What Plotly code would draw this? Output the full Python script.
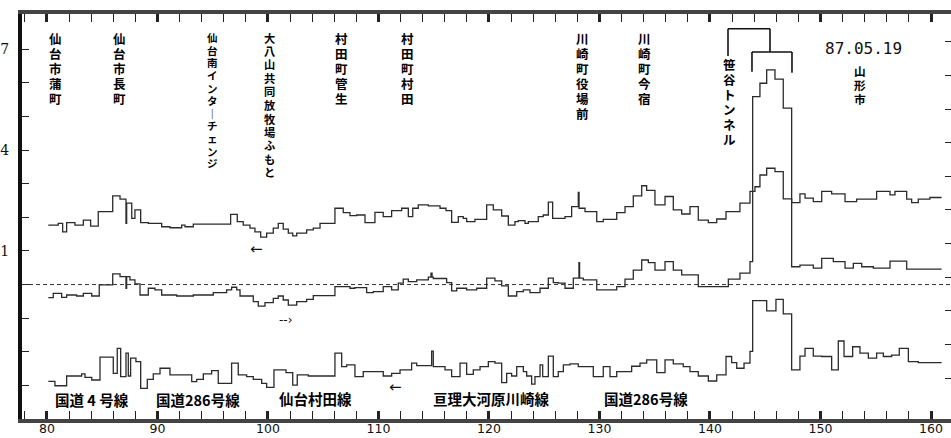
import plotly.graph_objects as go

# ---- data (distance in km, relative level) ----
A_km = [80.12, 81.02, 81.42, 81.78, 82.53, 83.29, 83.95, 84.64, 85.95, 86.61, 87.15, 87.21, 87.67, 87.96, 88.48,
        89.17, 90.38, 91.13, 92.19, 92.49, 93.24, 96.62, 97.22, 97.76, 98.37, 98.82, 99.34, 99.88, 100.48, 100.93,
        101.38, 101.84, 102.24, 102.60, 103.50, 104.10, 104.71, 106.06, 106.81, 107.42, 108.03, 108.78, 109.68,
        110.43, 111.19, 112.10, 112.70, 113.10, 113.60, 114.51, 115.57, 116.11, 116.62, 117.22, 117.67, 117.98,
        118.73, 119.79, 120.39, 121.15, 121.75, 122.35, 122.65, 123.26, 123.56, 124.46, 124.91, 125.37, 125.76,
        126.88, 127.48, 128.08, 128.15, 128.69, 129.75, 130.34, 131.56, 132.31, 133.06, 133.82, 134.27, 135.02,
        135.93, 136.68, 137.44, 138.19, 138.94, 139.85, 140.61, 141.45, 142.71, 143.62, 144.07, 144.52, 145.13,
        145.88, 146.63, 147.39, 148.14, 148.60, 149.35, 150.11, 151.01, 152.22, 153.27, 155.08, 156.29, 156.74,
        157.80, 158.25, 158.85, 159.90, 160.96]
A_val = [1.77, 1.82, 1.57, 1.84, 1.77, 1.92, 1.74, 2.17, 2.64, 2.54, 1.82, 2.42, 1.97, 2.22, 1.84, 1.82, 1.72, 1.69,
         1.77, 1.72, 1.80, 2.09, 1.87, 1.77, 1.68, 1.57, 1.41, 1.53, 1.68, 1.82, 1.65, 1.53, 1.45, 1.53, 1.63, 1.68,
         1.82, 2.27, 2.14, 2.05, 2.07, 1.84, 2.15, 2.02, 2.20, 2.27, 2.02, 2.27, 2.37, 2.34, 2.27, 2.20, 1.85, 2.02,
         1.97, 1.87, 1.94, 2.37, 2.22, 2.04, 1.77, 1.87, 1.90, 1.82, 1.87, 2.02, 2.07, 2.45, 1.97, 2.02, 2.32, 2.74,
         2.27, 2.17, 1.87, 1.94, 2.14, 2.32, 2.64, 2.94, 2.80, 2.37, 2.62, 2.22, 2.10, 2.32, 1.92, 1.84, 1.95, 2.17,
         2.42, 2.77, 2.91, 3.26, 3.46, 3.36, 2.55, 2.44, 2.70, 2.57, 2.47, 2.77, 2.70, 2.47, 2.54, 2.77, 2.67, 2.77,
         2.54, 2.44, 2.54, 2.59]

B_km = [80.12, 80.57, 81.33, 81.78, 82.69, 83.29, 84.05, 84.73, 85.95, 86.61, 87.15, 87.21, 87.51, 87.96, 88.42,
        89.17, 89.77, 90.38, 91.74, 93.24, 95.05, 96.26, 96.71, 97.17, 97.47, 98.67, 99.12, 99.73, 100.48, 100.93,
        101.38, 101.84, 102.60, 103.50, 104.10, 106.06, 107.42, 107.87, 108.93, 109.53, 110.43, 111.19, 111.79,
        112.24, 112.70, 113.46, 114.51, 114.75, 114.85, 114.96, 116.17, 116.62, 117.08, 117.98, 118.89, 119.79,
        120.54, 121.15, 121.75, 122.51, 123.11, 123.71, 124.62, 125.37, 125.82, 126.27, 126.88, 127.63, 128.14,
        128.20, 128.53, 129.75, 131.56, 132.31, 133.06, 133.82, 134.42, 135.02, 135.93, 136.68, 137.44, 138.94,
        141.66, 142.71, 143.62, 143.86, 144.52, 145.13, 145.88, 146.63, 147.39, 148.14, 149.35, 150.11, 151.16,
        152.22, 152.97, 153.73, 154.78, 156.29, 157.80, 160.96]
B_val = [-0.39, -0.26, -0.38, -0.31, -0.34, -0.26, -0.34, -0.01, 0.32, 0.235, -0.11, 0.235, 0.14, 0.02, -0.31,
         -0.11, -0.16, -0.31, -0.34, -0.31, -0.24, -0.16, -0.08, -0.16, -0.34, -0.51, -0.64, -0.54, -0.41, -0.34,
         -0.46, -0.61, -0.51, -0.44, -0.33, -0.06, -0.11, -0.09, -0.24, -0.21, -0.06, -0.16, 0.04, 0.16, 0.09, 0.14,
         0.22, 0.34, 0.22, 0.18, 0.06, -0.19, -0.11, -0.16, -0.11, 0.19, 0.11, -0.04, -0.34, -0.21, -0.16, -0.24,
         -0.11, 0.19, 0.06, 0.04, -0.11, 0.19, 0.65, 0.19, 0.14, -0.16, -0.06, 0.16, 0.43, 0.73, 0.65, 0.43, 0.68,
         0.43, 0.29, -0.06, 0.16, 0.34, 0.68, 5.59, 5.99, 6.39, 6.11, 5.25, 0.53, 0.58, 0.49, 0.78, 0.68, 0.49,
         0.63, 0.53, 0.49, 0.70, 0.46]

C_km = [80.12, 80.72, 81.78, 83.14, 83.44, 84.05, 84.80, 86.00, 86.36, 86.67, 87.15, 87.36, 87.57, 88.05, 88.48,
        89.08, 89.62, 90.23, 91.13, 93.10, 93.55, 94.15, 94.90, 95.50, 96.71, 97.31, 98.07, 98.67, 99.43, 99.88,
        100.54, 101.63, 102.24, 102.65, 103.65, 106.06, 106.67, 107.12, 107.87, 108.62, 110.43, 111.19, 111.95,
        113.00, 113.46, 114.81, 114.96, 116.02, 116.62, 117.38, 117.98, 118.58, 119.19, 119.94, 120.54, 121.15,
        121.60, 122.05, 122.51, 123.11, 123.41, 123.86, 124.16, 124.62, 124.86, 125.37, 125.82, 126.27, 126.73,
        127.33, 128.08, 129.44, 130.34, 130.95, 131.56, 132.91, 133.67, 134.27, 135.18, 135.93, 136.68, 137.58,
        138.19, 138.94, 139.85, 140.61, 141.45, 141.96, 142.42, 143.08, 143.62, 143.86, 145.13, 145.97, 146.63,
        147.39, 148.14, 148.60, 149.35, 150.11, 151.01, 151.61, 152.13, 152.91, 153.57, 154.33, 155.08, 155.69,
        156.44, 157.13, 157.95, 158.85, 160.96]
C_val = [-2.88, -3.01, -2.72, -2.66, -2.76, -2.84, -2.16, -2.64, -1.90, -2.74, -2.04, -2.72, -2.19, -2.29, -3.09,
         -2.82, -2.66, -2.49, -2.69, -2.89, -2.82, -2.66, -2.56, -2.94, -2.34, -2.69, -2.74, -2.82, -2.94, -3.06,
         -2.54, -2.62, -2.99, -2.69, -2.72, -2.04, -2.44, -2.39, -2.74, -2.59, -2.72, -2.64, -2.54, -2.34, -2.41,
         -1.98, -2.44, -2.54, -2.74, -2.34, -2.67, -2.54, -2.44, -2.29, -2.34, -2.92, -2.64, -2.72, -2.44, -2.59,
         -2.72, -2.96, -2.74, -2.39, -2.74, -2.13, -2.74, -2.59, -2.39, -2.36, -2.44, -2.74, -2.44, -2.74, -2.59,
         -2.43, -2.34, -2.24, -2.62, -2.24, -2.36, -2.44, -2.59, -2.72, -2.87, -2.69, -2.14, -2.32, -2.49, -2.34,
         -1.99, -0.48, -0.78, -0.44, -0.875, -2.54, -2.13, -1.90, -2.13, -2.14, -2.54, -1.68, -2.14, -1.85, -2.04,
         -2.19, -2.04, -2.14, -2.10, -1.90, -2.29, -2.32]

x_ticks = [80, 90, 100, 110, 120, 130, 140, 150, 160]
y_ticks = [-3, -2, -1, 0, 1, 2, 3, 4, 5, 6, 7]
y_ticktext = ["", "", "", "", "1", "", "", "4", "", "", "7"]

# place names (vertical text): name, km, top level, character pitch in px
places = [
    ("仙台市蒲町", 80.81, 7.52, 15.0),
    ("仙台市長町", 86.52, 7.52, 15.0),
    ("仙台南インターチェンジ", 95.02, 7.52, 12.6),
    ("大八山共同放牧場ふもと", 100.18, 7.52, 13.5),
    ("村田町管生", 106.61, 7.52, 15.0),
    ("村田町村田", 112.67, 7.52, 15.0),
    ("川崎町役場前", 128.42, 7.52, 15.0),
    ("川崎町今宿", 134.03, 7.52, 15.0),
    ("笹谷トンネル", 141.81, 6.74, 15.0),
    ("山形市", 153.57, 6.54, 14.0),
]
roads = [
    ("国道 4 号線", 84.03, -3.43),
    ("国道286号線", 93.71, -3.43),
    ("仙台村田線", 104.30, -3.40),
    ("亘理大河原川崎線", 120.18, -3.38),
    ("国道286号線", 134.25, -3.38),
]
date_label = "87.05.19"

LINE = "#2b2b2b"
CJK = "Noto Sans CJK JP"
VFONT = "DejaVu Sans, Noto Sans CJK JP"

fig = go.Figure()
for km, val in [(A_km, A_val), (B_km, B_val), (C_km, C_val)]:
    fig.add_trace(go.Scatter(x=km, y=val + [val[-1]], mode="lines", line_shape="hv",
                             line=dict(color=LINE, width=1.3), showlegend=False, hoverinfo="skip"))
# invisible trace for the right-hand tick axis
fig.add_trace(go.Scatter(x=[80], y=[0], yaxis="y2", mode="markers", marker=dict(opacity=0),
                         showlegend=False, hoverinfo="skip"))

ann = []
vmap = {"ー": "｜"}
for name, xk, top, pitch in places:
    glyph = min(12.5, pitch / 1.2)
    for i, ch in enumerate(name):
        ann.append(dict(x=xk, y=top, xref="x", yref="y", yshift=-pitch * (i + 0.5),
                        text=vmap.get(ch, ch), showarrow=False,
                        font=dict(family=VFONT, size=glyph, color="#000", weight="bold"), borderpad=0,
                        xanchor="center", yanchor="middle"))
for name, xk, yv in roads:
    ann.append(dict(x=xk, y=yv, xref="x", yref="y", text=name, showarrow=False,
                    font=dict(family=CJK, size=14.5, color="#000", weight="bold"),
                    xanchor="center", yanchor="middle"))
ann.append(dict(x=153.85, y=7.01, xref="x", yref="y", text=date_label, showarrow=False,
                font=dict(family="DejaVu Sans Mono", size=16, color="#111"), xanchor="center", yanchor="middle"))
ann.append(dict(x=98.96, y=1.05, xref="x", yref="y", text="←", showarrow=False,
                font=dict(family="DejaVu Sans", size=15, color="#111")))
ann.append(dict(x=111.58, y=-3.04, xref="x", yref="y", text="←", showarrow=False,
                font=dict(family="DejaVu Sans", size=15, color="#111")))
ann.append(dict(x=101.63, y=-1.05, xref="x", yref="y", text="--›", showarrow=False,
                font=dict(family="DejaVu Sans", size=12, color="#111")))

bracket = dict(color="#111", width=1.6)
shapes = [
    dict(type="line", xref="paper", yref="y", x0=0, x1=1, y0=0, y1=0,
         line=dict(color="#333", width=1, dash="4px,3px")),
    # tunnel bracket
    dict(type="line", xref="x", yref="y", x0=141.63, x1=141.63, y0=6.80, y1=7.61, line=bracket),
    dict(type="line", xref="x", yref="y", x0=141.63, x1=145.43, y0=7.61, y1=7.61, line=bracket),
    dict(type="line", xref="x", yref="y", x0=145.43, x1=145.43, y0=7.61, y1=6.92, line=bracket),
    dict(type="line", xref="x", yref="y", x0=143.80, x1=147.42, y0=6.92, y1=6.92, line=bracket),
    dict(type="line", xref="x", yref="y", x0=143.80, x1=143.80, y0=6.92, y1=6.33, line=bracket),
    dict(type="line", xref="x", yref="y", x0=147.42, x1=147.42, y0=6.92, y1=6.30, line=bracket),
]

fig.update_layout(
    width=951, height=438,
    margin=dict(l=22, r=0, t=14, b=19),
    paper_bgcolor="white", plot_bgcolor="white",
    showlegend=False,
    annotations=ann, shapes=shapes,
    xaxis=dict(range=[77.74, 161.81], tickvals=x_ticks, ticks="inside", ticklen=8, tickwidth=3,
               tickcolor="#222", showline=True, linewidth=3.5, linecolor="#444", mirror="allticks",
               showgrid=False, zeroline=False, automargin=False, ticklabelstandoff=-5,
               minor=dict(dtick=2, tick0=80, ticks="inside", ticklen=5, tickwidth=1, tickcolor="#222"),
               tickfont=dict(family="DejaVu Sans", size=12.5, color="#111")),
    yaxis=dict(range=[-4.0, 8.05], tickvals=y_ticks, ticktext=y_ticktext, ticks="inside", ticklen=7,
               tickwidth=1.3, tickcolor="#222", showline=True, linewidth=4, linecolor="#111",
               showgrid=False, zeroline=False, ticklabelstandoff=6, automargin=False,
               tickfont=dict(family="DejaVu Serif", size=14, color="#111")),
    yaxis2=dict(range=[-4.22, 7.83], overlaying="y", side="right", tickvals=y_ticks, ticks="inside",
                ticklen=6, tickwidth=1.3, tickcolor="#222", showticklabels=False, showline=False,
                showgrid=False, zeroline=False, automargin=False),
)

fig.write_html("out.html", config={"displayModeBar": False},
               post_script="document.body.style.margin='0px';document.body.style.overflow='hidden';")
